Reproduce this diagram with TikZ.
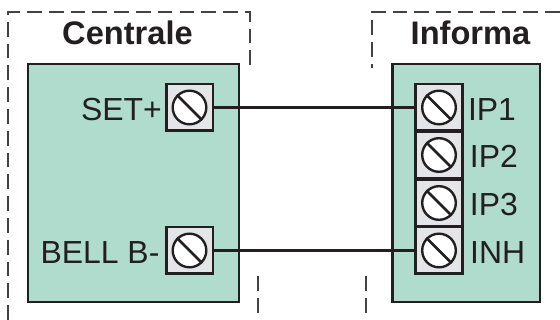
\documentclass[tikz,border=0pt]{standalone}
\usepackage{fontspec}
\setmainfont{Liberation Sans}

\definecolor{boardgreen}{HTML}{AFDCCD}
\definecolor{termgrey}{HTML}{E4E5E6}
\definecolor{inkblack}{HTML}{231F20}

\begin{document}
\begin{tikzpicture}[x=0.025cm, y=-0.025cm,
    board/.style ={draw=inkblack, fill=boardgreen, line width=2.1pt},
    terminal/.style ={rectangle, draw=inkblack, fill=termgrey, line width=2pt, minimum size=1.17cm, inner sep=0pt},
    screw/.style ={circle, draw=inkblack, fill=white, line width=1.7pt, minimum size=0.84cm, inner sep=0pt},
    wire/.style ={draw=inkblack, line width=1.9pt},
    zone/.style ={draw=inkblack!85, line width=0.8pt, dash pattern=on 10.5pt off 5pt},
    pinlabel/.style ={label distance=0pt, yshift=-1.2pt, font=\fontsize{22.7}{24}\selectfont, text=inkblack},
    title/.style ={anchor=base, font=\fontsize{23.2}{25}\selectfont\bfseries, text=inkblack}]
   \useasboundingbox (0,0) rectangle (560,320);
   % dashed zones
   \draw[zone] (8,320) -- (8,12) -- (250,12) -- (250,68);
   \draw[zone] (258,276) -- (258,314);
   \draw[zone] (560,12) -- (372,12) -- (372,68);
   \draw[zone] (366,276) -- (366,314);
   % boards
   \draw[board] (28,64) rectangle (239,302);
   \draw[board] (392.5,64) rectangle (540,302);
   \node[title] (centrale) at (127.5,45) {Centrale};
   \node[title] (informa) at (470.5,45) {Informa};
   % terminals
   \node[terminal, label={[pinlabel, xshift=1.5pt]left:SET+}] (set) at (189.5,107.5) {};
   \node[terminal, label={[pinlabel, xshift=-0.2pt]left:BELL B-}] (bell) at (189.5,250.5) {};
   \node[terminal, label={[pinlabel, xshift=-0.5pt]right:IP1}] (ip1) at (439,107.5) {};
   \node[terminal, label={[pinlabel, xshift=0.8pt]right:IP2}] (ip2) at (439,155) {};
   \node[terminal, label={[pinlabel, xshift=0.8pt]right:IP3}] (ip3) at (439,203) {};
   \node[terminal, label={[pinlabel, xshift=1pt]right:INH}] (inh) at (439,250.5) {};
   % screws
   \foreach \name in {set,bell,ip1,ip2,ip3,inh} {
     \node[screw] (\name s) at (\name) {};
     \draw[wire] (\name s.135) -- (\name s.-45);
   }
   % wires
   \draw[wire] (set.east) -- (ip1.west);
   \draw[wire] (bell.east) -- (inh.west);
 \end{tikzpicture}
\end{document}
